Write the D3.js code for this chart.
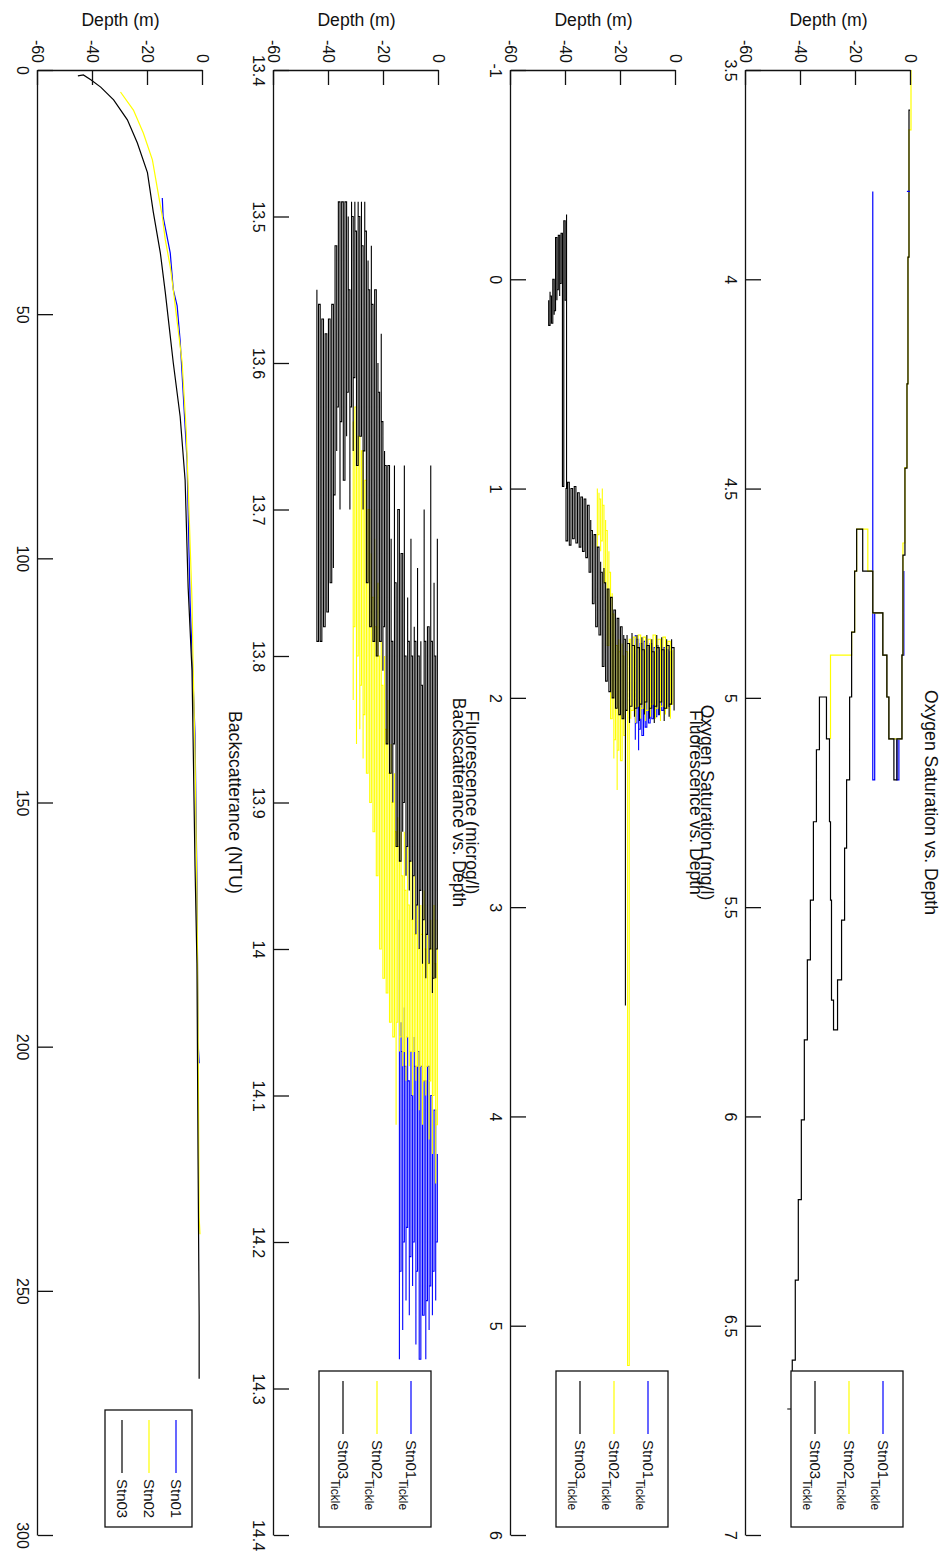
<!DOCTYPE html>
<html>
<head>
<meta charset="utf-8">
<script src="https://cdn.jsdelivr.net/npm/d3@7"></script>
<style>
  body { margin: 0; background: #fff; }
  text { font-family: "Liberation Sans", Arial, sans-serif; }
</style>
</head>
<body>
<div id="fig"></div>
<script>
// La figura se dibuja "acostada" (1553 x 948) y luego se gira 90 grados
const WIDTH = 948;
const HEIGHT = 1553;

const X0 = 70, X1 = 1535;            // eje de valores (horizontal en la figura original)
const PANEL_TOP = [37, 272, 509, 745];
const PANEL_H = 165;

const depthTicks = [-60, -40, -20, 0];

// ---------- Oxigeno: [profundidad, valor] ----------
const oxyStn01 = [[-13.9,3.79],[-13.9,5.196],[-13.2,5.196],[-13.2,4.797],[-10.25,4.797],[-10.25,4.898],[-8.78,4.898],[-8.78,4.998],[-8.05,4.998],[-8.05,5.098],[-5.12,5.098],[-5.12,5.196],[-4.4,5.196],[-4.4,5.098],[-3.29,5.098],[-3.29,4.898],[-2.6,4.898],[-2.6,4.697]];
const oxyStn01Tip = [[-0.37,3.79],[-1.5,3.79]];
const oxyStn02 = [[0,3.5],[0,3.643],[-0.73,3.643],[-0.73,3.947],[-1.1,3.947],[-1.1,4.25],[-1.46,4.25],[-1.46,4.45],[-2.2,4.45],[-2.2,4.63],[-2.93,4.63],[-2.93,4.898],[-3.29,4.898],[-3.29,5.098],[-8.05,5.098],[-8.05,4.998],[-8.78,4.998],[-8.78,4.898],[-10.25,4.898],[-10.25,4.797],[-13.9,4.797],[-13.9,4.697],[-15.7,4.697],[-15.7,4.597],[-19.76,4.597],[-19.76,4.697],[-20.49,4.697],[-20.49,4.843],[-21.59,4.843],[-21.59,4.898],[-29.27,4.898],[-29.27,5.098]];
const oxyStn03 = [[-0.37,3.596],[-0.73,3.596],[-0.73,3.947],[-1.1,3.947],[-1.1,4.25],[-1.46,4.25],[-1.46,4.451],[-2.2,4.451],[-2.2,4.659],[-2.93,4.659],[-2.93,4.898],[-3.29,4.898],[-3.29,5.098],[-5.12,5.098],[-5.12,5.196],[-6.22,5.196],[-6.22,5.098],[-8.05,5.098],[-8.05,4.998],[-8.78,4.998],[-8.78,4.898],[-10.25,4.898],[-10.25,4.797],[-13.9,4.797],[-13.9,4.697],[-17.56,4.697],[-17.56,4.597],[-19.76,4.597],[-19.76,4.697],[-20.49,4.697],[-20.49,4.843],[-21.59,4.843],[-21.59,4.998],[-22.32,4.998],[-22.32,5.196],[-23.42,5.196],[-23.42,5.359],[-24.15,5.359],[-24.15,5.531],[-25.25,5.531],[-25.25,5.674],[-26.71,5.674],[-26.71,5.793],[-28.17,5.793],[-28.17,5.722],[-28.91,5.722],[-28.91,5.483],[-29.27,5.483],[-29.27,5.296],[-29.64,5.296],[-29.64,5.098],[-30.74,5.098],[-30.74,4.998],[-33.3,4.998],[-33.3,5.124],[-34.39,5.124],[-34.39,5.296],[-35.49,5.296],[-35.49,5.483],[-36.59,5.483],[-36.59,5.626],[-37.69,5.626],[-37.69,5.817],[-38.79,5.817],[-38.79,6.008],[-39.88,6.008],[-39.88,6.199],[-40.98,6.199],[-40.98,6.391],[-42.08,6.391],[-42.08,6.582],[-43.18,6.582],[-43.18,6.699],[-45.0,6.699]];

// ---------- Fluorescencia: [profundidad, valor min, valor max] ----------
const fluoStn01 = [[-14.8,1.70,2.20],[-14.2,1.78,2.12],[-13.6,1.72,2.25],[-13.0,1.80,2.15],[-12.4,1.74,2.10],[-11.8,1.79,2.18],[-11.2,1.73,2.08],[-10.6,1.80,2.14],[-10.0,1.75,2.06],[-9.4,1.79,2.12],[-8.8,1.74,2.05],[-8.2,1.80,2.10],[-7.6,1.76,2.04],[-7.0,1.81,2.09],[-6.4,1.75,2.03],[-5.8,1.80,2.08],[-5.2,1.77,2.02],[-4.6,1.81,2.06],[-4.0,1.76,2.03],[-3.4,1.80,2.05],[-2.8,1.77,2.02],[-2.2,1.80,2.04],[-1.6,1.78,2.03]];
const fluoStn02 = [[-28.6,1.00,1.28],[-28.0,1.02,1.22],[-27.4,1.05,1.30],[-26.8,1.00,1.25],[-26.2,1.08,1.35],[-25.6,1.15,1.45],[-25.0,1.20,1.60],[-24.4,1.30,1.75],[-23.8,1.40,1.90],[-23.2,1.50,2.10],[-22.6,1.60,2.29],[-22.0,1.70,2.20],[-21.4,1.75,2.44],[-20.8,1.72,2.25],[-20.2,1.78,2.15],[-19.6,1.74,2.30],[-19.0,1.80,2.12],[-18.4,1.73,2.18],[-17.6,1.78,2.10],[-17.0,2.00,5.19],[-16.45,1.72,2.10],[-15.55,1.78,2.06],[-14.65,1.71,2.12],[-13.75,1.76,2.04],[-12.85,1.70,2.10],[-11.95,1.75,2.05],[-11.05,1.71,2.11],[-10.15,1.77,2.06],[-9.25,1.72,2.09],[-8.35,1.76,2.03],[-7.45,1.70,2.10],[-6.55,1.75,2.05],[-5.65,1.72,2.11],[-4.75,1.77,2.04],[-3.85,1.71,2.08],[-2.95,1.76,2.05],[-2.05,1.73,2.10],[-1.15,1.77,2.03]];
const fluoStn03 = [[-46.3,0.10,0.18],[-45.8,0.06,0.22],[-45.3,0.08,0.20],[-44.8,0.02,0.21],[-44.3,0.00,0.17],[-43.8,-0.12,0.15],[-43.3,-0.20,0.10],[-42.8,-0.15,0.05],[-42.3,-0.21,0.08],[-41.8,-0.18,0.02],[-41.3,-0.22,0.06],[-40.8,-0.26,0.99],[-40.3,-0.28,0.03],[-39.8,-0.31,0.10],[-40.0,1.00,1.18],[-39.4,1.02,1.25],[-38.8,0.97,1.15],[-38.2,1.05,1.27],[-37.6,1.00,1.20],[-37.0,1.03,1.24],[-36.4,0.99,1.16],[-35.8,1.06,1.26],[-35.2,1.02,1.21],[-34.6,1.08,1.28],[-34.0,1.04,1.22],[-33.4,1.10,1.30],[-32.8,1.05,1.25],[-32.2,1.12,1.33],[-31.6,1.08,1.27],[-31.0,1.15,1.40],[-30.4,1.20,1.45],[-29.8,1.25,1.55],[-29.2,1.22,1.60],[-28.6,1.30,1.66],[-28.0,1.28,1.58],[-27.4,1.35,1.70],[-26.8,1.40,1.78],[-26.2,1.38,1.85],[-25.6,1.45,1.80],[-25.0,1.50,1.92],[-24.4,1.48,1.88],[-23.8,1.55,1.97],[-23.2,1.52,1.93],[-22.6,1.60,2.00],[-22.0,1.58,1.95],[-21.4,1.65,2.05],[-20.8,1.62,2.00],[-20.2,1.68,2.08],[-19.6,1.66,2.02],[-19.0,1.70,2.10],[-18.4,1.72,3.47],[-17.8,1.70,2.06],[-16.9,1.74,2.12],[-16.0,1.69,2.04],[-15.1,1.75,2.09],[-14.2,1.70,2.05],[-13.3,1.76,2.11],[-12.4,1.71,2.03],[-11.5,1.77,2.08],[-10.6,1.70,2.02],[-9.7,1.75,2.10],[-8.8,1.72,2.05],[-7.9,1.78,2.12],[-7.0,1.70,2.04],[-6.1,1.76,2.08],[-5.2,1.71,2.02],[-4.3,1.77,2.11],[-3.4,1.72,2.05],[-2.5,1.75,2.09],[-1.6,1.72,2.03],[-0.7,1.76,2.06]];

// ---------- Panel 3 (13.4 - 14.4): [profundidad, min, max] ----------
const bscStn01 = [[-14.4,13.98,14.28],[-13.8,14.05,14.22],[-13.2,14.07,14.26],[-12.6,14.04,14.20],[-12.0,14.08,14.24],[-11.4,14.06,14.19],[-10.8,14.09,14.25],[-10.2,14.07,14.21],[-9.6,14.10,14.23],[-9.0,14.06,14.20],[-8.4,14.08,14.27],[-7.8,14.11,14.22],[-7.2,14.07,14.24],[-6.6,14.10,14.28],[-6.0,14.08,14.23],[-5.4,14.12,14.25],[-4.8,14.09,14.28],[-4.2,14.11,14.24],[-3.6,14.08,14.26],[-3.0,14.12,14.23],[-2.4,14.10,14.25],[-1.8,14.13,14.22],[-1.2,14.11,14.24],[-0.6,14.14,14.20]];
const bscStn02 = [[-31.2,13.64,13.83],[-30.6,13.66,13.78],[-30.0,13.63,13.86],[-29.4,13.68,13.80],[-28.8,13.65,13.85],[-28.2,13.70,13.82],[-27.6,13.66,13.87],[-27.0,13.72,13.84],[-26.4,13.68,13.86],[-25.8,13.74,13.88],[-25.2,13.70,13.85],[-24.6,13.73,13.90],[-24.0,13.76,13.87],[-23.4,13.72,13.92],[-22.8,13.78,13.89],[-22.2,13.75,13.95],[-21.6,13.80,13.98],[-21.0,13.79,14.00],[-20.4,13.82,13.97],[-19.8,13.80,14.02],[-19.2,13.85,14.00],[-18.6,13.83,14.03],[-18.0,13.88,14.01],[-17.4,13.86,14.05],[-16.8,13.90,14.03],[-16.2,13.88,14.06],[-15.6,13.92,14.12],[-15.0,13.91,14.05],[-14.4,13.93,14.07],[-13.8,13.92,14.06],[-13.2,13.95,14.08],[-12.6,13.92,14.07],[-12.0,13.96,14.09],[-11.4,13.93,14.06],[-10.8,13.97,14.08],[-10.2,13.94,14.07],[-9.6,13.98,14.10],[-9.0,13.95,14.07],[-8.4,13.99,14.09],[-7.8,13.96,14.08],[-7.2,14.00,14.11],[-6.6,13.97,14.08],[-6.0,13.99,14.12],[-5.4,13.96,14.09],[-4.8,14.00,14.10],[-4.2,13.97,14.08],[-3.6,14.01,14.13],[-3.0,13.98,14.09],[-2.4,14.00,14.14],[-1.8,13.97,14.10],[-1.2,14.01,14.16],[-0.6,13.98,14.12]];
const bscStn03 = [[-44.4,13.55,13.62],[-43.8,13.60,13.79],[-43.2,13.56,13.70],[-42.6,13.62,13.79],[-42.0,13.57,13.66],[-41.4,13.60,13.78],[-40.8,13.58,13.72],[-40.2,13.63,13.77],[-39.6,13.57,13.70],[-39.0,13.60,13.75],[-38.4,13.56,13.74],[-37.8,13.58,13.69],[-37.2,13.52,13.66],[-36.6,13.49,13.63],[-36.0,13.49,13.70],[-35.4,13.50,13.64],[-34.8,13.49,13.62],[-34.2,13.52,13.68],[-33.6,13.49,13.65],[-33.0,13.50,13.62],[-32.4,13.55,13.70],[-31.8,13.49,13.63],[-31.2,13.50,13.66],[-30.6,13.49,13.61],[-30.0,13.51,13.64],[-29.4,13.49,13.67],[-28.8,13.50,13.62],[-28.2,13.49,13.65],[-27.6,13.52,13.70],[-27.0,13.49,13.66],[-26.4,13.51,13.72],[-25.8,13.53,13.75],[-25.2,13.55,13.71],[-24.6,13.52,13.78],[-24.0,13.56,13.74],[-23.4,13.58,13.79],[-22.8,13.55,13.76],[-22.2,13.60,13.80],[-21.6,13.62,13.77],[-21.0,13.58,13.79],[-20.4,13.64,13.81],[-19.8,13.66,13.78],[-19.2,13.67,13.84],[-18.6,13.70,13.86],[-18.0,13.67,13.83],[-17.4,13.72,13.88],[-16.8,13.79,13.90],[-16.2,13.67,13.86],[-15.6,13.75,13.91],[-15.0,13.79,13.93],[-14.4,13.70,13.89],[-13.8,13.79,13.94],[-13.2,13.73,13.92],[-12.6,13.67,13.90],[-12.0,13.80,13.95],[-11.4,13.76,13.93],[-10.8,13.79,13.96],[-10.2,13.72,13.94],[-9.6,13.80,13.98],[-9.0,13.78,13.95],[-8.4,13.79,13.99],[-7.8,13.74,13.97],[-7.2,13.80,14.00],[-6.6,13.79,13.96],[-6.0,13.82,14.01],[-5.4,13.70,13.98],[-4.8,13.79,14.02],[-4.2,13.80,13.99],[-3.6,13.78,14.01],[-3.0,13.67,14.00],[-2.4,13.79,14.03],[-1.8,13.75,14.02],[-1.2,13.80,14.02],[-0.6,13.72,14.00]];

// ---------- Backscatterance (NTU): [profundidad, valor] ----------
const ntuStn01 = [[-14.8,26.2],[-14.5,30],[-11.9,37.5],[-10.8,45],[-9.4,48.3],[-8.3,55.5],[-5.8,80],[-4.7,108.7],[-2.9,136],[-2.2,166],[-1.8,199],[-1.4,203.4]];
const ntuStn02 = [[-30,4.5],[-25.3,8.2],[-21.7,12.9],[-18.4,18.4],[-16.3,25.2],[-14.8,30],[-13.7,34.8],[-11.9,40.3],[-10.8,45],[-10.1,48.3],[-7.6,59.8],[-6.1,74],[-5.1,90],[-4,108.7],[-3.6,121.6],[-2.9,140],[-2.2,169],[-1.8,195],[-1.4,235],[-1.1,238.4]];
const ntuStn03 = [[-45.5,1.2],[-43.5,1.0],[-40.8,2.0],[-37.2,3.5],[-32.5,6.1],[-27.5,10.2],[-23.9,14.9],[-20.2,21],[-18.1,29],[-15.5,37.5],[-13.7,45.6],[-10.8,60],[-8.3,71],[-6.5,84],[-5.4,106],[-4,123],[-3.6,137],[-2.9,163],[-2.2,183],[-1.8,223],[-1.4,255],[-1.4,268]];

const stnNames = ["Stn01", "Stn02", "Stn03"];
const stnColors = ["#0000ff", "#ffff00", "#000000"];

const panels = [
  {title: "Oxygen Saturation vs. Depth", xlabel: "Oxygen Saturation (mg/l)", domain: [3.5, 7], ticks: [3.5,4,4.5,5,5.5,6,6.5,7],
   lines: [oxyStn01, oxyStn02, oxyStn03], extra: [[oxyStn01Tip, 0]], bars: null, sub: true},
  {title: "Fluorescence vs. Depth", xlabel: "Fluorescence (microg/l)", domain: [-1, 6], ticks: [-1,0,1,2,3,4,5,6],
   lines: null, bars: [fluoStn01, fluoStn02, fluoStn03], sub: true},
  {title: "Backscatterance vs. Depth", xlabel: "Backscatterance (NTU)", domain: [13.4, 14.4], ticks: [13.4,13.5,13.6,13.7,13.8,13.9,14,14.1,14.2,14.3,14.4],
   lines: null, bars: [bscStn01, bscStn02, bscStn03], sub: true},
  {title: null, xlabel: null, domain: [0, 300], ticks: [0,50,100,150,200,250,300],
   lines: [ntuStn01, ntuStn02, ntuStn03], bars: null, sub: false}
];

const svg = d3.select("#fig").append("svg")
  .attr("width", WIDTH).attr("height", HEIGHT);
svg.append("rect").attr("width", WIDTH).attr("height", HEIGHT).attr("fill", "#fff");

// giro horario: (x, y) original -> (WIDTH - y, x)
const fig = svg.append("g").attr("transform", `translate(${WIDTH},0) rotate(90)`);

const fmt = d => String(+d.toFixed(2));

// barras verticales de ruido -> zigzag (min, max, max, min, ...)
function barsToPath(bars) {
  const pts = [];
  bars.forEach((b, i) => {
    if (i % 2 == 0) { pts.push([b[0], b[1]]); pts.push([b[0], b[2]]); }
    else { pts.push([b[0], b[2]]); pts.push([b[0], b[1]]); }
  });
  return pts;
}

panels.forEach((p, k) => {
  const top = PANEL_TOP[k];
  const bottom = top + PANEL_H;
  const x = d3.scaleLinear().domain(p.domain).range([X0, X1]);
  const y = d3.scaleLinear().domain([-60, 0]).range([bottom, top]);
  const g = fig.append("g");

  const line = d3.line().x(d => x(d[1])).y(d => y(d[0]));
  const stairs = d3.line().x(d => x(d[1])).y(d => y(d[0])).curve(d3.curveStepAfter);
  if (p.lines) {
    p.lines.forEach((s, i) => {
      g.append("path").attr("d", line(s)).attr("fill", "none")
        .attr("stroke", stnColors[i]).attr("stroke-width", 1.2);
    });
  } else {
    p.bars.forEach((s, i) => {
      g.append("path").attr("d", stairs(barsToPath(s))).attr("fill", "none")
        .attr("stroke", stnColors[i]).attr("stroke-width", 1.1);
    });
  }
  (p.extra || []).forEach(([s, i]) => {
    g.append("path").attr("d", line(s)).attr("fill", "none")
      .attr("stroke", stnColors[i]).attr("stroke-width", 1.2);
  });

  // ejes
  const ax = g.append("g").attr("transform", `translate(0,${bottom})`)
    .call(d3.axisBottom(x).tickValues(p.ticks).tickFormat(fmt).tickSize(-15).tickSizeOuter(0).tickPadding(10));
  const ay = g.append("g").attr("transform", `translate(${X0},0)`)
    .call(d3.axisLeft(y).tickValues(depthTicks).tickFormat(fmt).tickSize(-15).tickSizeOuter(0).tickPadding(7));
  [ax, ay].forEach(a => {
    a.attr("font-family", null).attr("font-size", null);
    a.selectAll("path, line").attr("stroke", "#111").attr("stroke-width", 1.3);
    a.selectAll("text").attr("font-size", 16).attr("fill", "#111");
  });

  g.append("text").text("Depth (m)")
    .attr("transform", `translate(26,${(top + bottom) / 2}) rotate(-90)`)
    .attr("text-anchor", "middle").attr("font-size", 17.6).attr("fill", "#111");
  if (p.title) g.append("text").text(p.title).attr("x", (X0 + X1) / 2).attr("y", top - 14)
    .attr("text-anchor", "middle").attr("font-size", 17.6).attr("fill", "#111");
  if (p.xlabel) g.append("text").text(p.xlabel).attr("x", (X0 + X1) / 2).attr("y", bottom + 45)
    .attr("text-anchor", "middle").attr("font-size", 17.6).attr("fill", "#111");

  // leyenda
  const step = p.sub ? 34 : 27;
  const lx = p.sub ? 1371 : 1410;
  const ly = top + (p.sub ? 8 : 11);
  const lg = g.append("g");
  lg.append("rect").attr("x", lx).attr("y", ly).attr("width", 1527 - lx).attr("height", p.sub ? 112 : 87)
    .attr("fill", "#fff").attr("stroke", "#111").attr("stroke-width", 1.3);
  stnNames.forEach((n, i) => {
    const yy = ly + (p.sub ? 20 : 16) + i * step;
    lg.append("line").attr("x1", lx + 10).attr("x2", lx + 63).attr("y1", yy).attr("y2", yy)
      .attr("stroke", stnColors[i]).attr("stroke-width", 1.2);
    const t = lg.append("text").attr("x", lx + 69).attr("y", yy + 5.5).attr("font-size", 15).attr("fill", "#111");
    t.append("tspan").text(n);
    if (p.sub) t.append("tspan").text("Tickle").attr("font-size", 12).attr("dy", 7);
  });
});
</script>
</body>
</html>
